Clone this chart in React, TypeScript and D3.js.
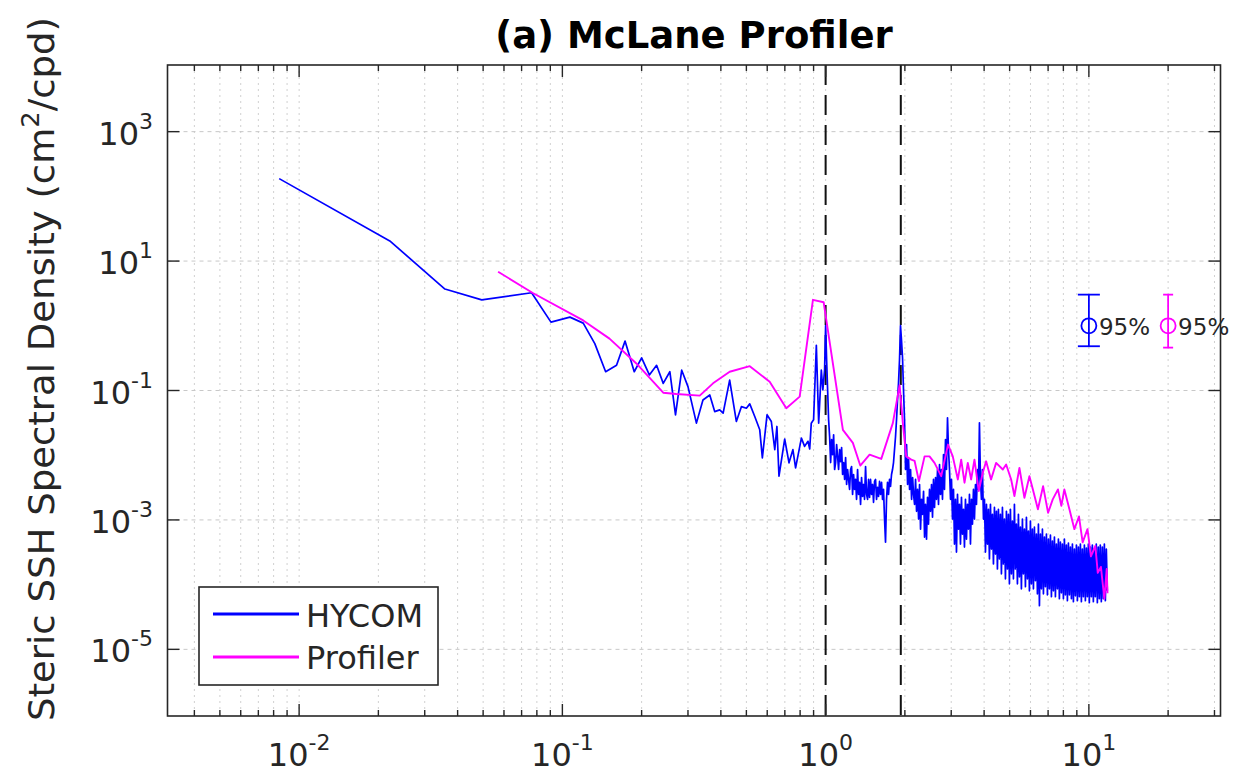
import React from "react";
import * as d3 from "d3";

// ---------- data (frequency in cpd, PSD in cm^2/cpd) ----------
const hycomLow: [number, number][] = [
  [0.0084, 188], [0.0221, 20.5], [0.0358, 3.7], [0.0494, 2.52], [0.0764, 3.24], [0.0905, 1.14],
  [0.1068, 1.36], [0.12, 1.1], [0.1328, 0.53], [0.146, 0.195], [0.1606, 0.245], [0.173, 0.58],
  [0.1875, 0.195], [0.2, 0.32], [0.214, 0.174], [0.228, 0.245], [0.2416, 0.129], [0.256, 0.195],
  [0.269, 0.042], [0.284, 0.206], [0.3, 0.115], [0.323, 0.0313], [0.342, 0.0714], [0.363, 0.0853],
  [0.379, 0.0472], [0.396, 0.0501], [0.408, 0.0446], [0.432, 0.145], [0.458, 0.0332], [0.479, 0.0564],
  [0.5, 0.0533], [0.515, 0.0621], [0.538, 0.0396], [0.562, 0.0247], [0.575, 0.0091], [0.599, 0.0421],
  [0.622, 0.0332], [0.641, 0.0122], [0.653, 0.0278], [0.665, 0.00474], [0.699, 0.0178], [0.726, 0.00762],
  [0.751, 0.0122], [0.769, 0.00638], [0.809, 0.0184], [0.832, 0.0137], [0.857, 0.0164], [0.87, 0.0125],
  [0.882, 0.0313], [0.9, 0.0352], [0.922, 0.5], [0.941, 0.0313], [0.963, 0.206], [0.976, 0.102],
  [0.991, 0.206], [1.0, 1.01],
];

const hycomTidal: [number, number][] = [
  [1.0088, 0.294], [1.0176, 0.1018], [1.0265, 0.0352], [1.0356, 0.0193], [1.0447, 0.0077], [1.0538, 0.0174],
  [1.063, 0.0102], [1.0724, 0.0207], [1.0818, 0.00601], [1.0913, 0.0077], [1.1009, 0.0146], [1.1105, 0.0095],
  [1.1202, 0.00601], [1.1301, 0.0122], [1.14, 0.00797], [1.15, 0.0131], [1.1601, 0.00503], [1.1703, 0.0077],
  [1.1806, 0.00422], [1.1909, 0.0092], [1.2014, 0.00353], [1.2119, 0.00601], [1.2225, 0.00422], [1.2332, 0.00296],
  [1.244, 0.00601], [1.2549, 0.00668], [1.2659, 0.00248], [1.277, 0.00503], [1.2882, 0.00296], [1.2995, 0.00422],
  [1.3109, 0.00208], [1.3224, 0.00601], [1.334, 0.00248], [1.3457, 0.0038], [1.3575, 0.00174], [1.3694, 0.00452],
  [1.3814, 0.00231], [1.3935, 0.00353], [1.4057, 0.00208], [1.4181, 0.00668], [1.4305, 0.00248], [1.4431, 0.00208],
  [1.4558, 0.00422], [1.4685, 0.00223], [1.4814, 0.00422], [1.4944, 0.00248], [1.5075, 0.00353], [1.5207, 0.00187],
  [1.534, 0.00393], [1.5475, 0.00422], [1.5611, 0.00208], [1.5748, 0.00318], [1.5886, 0.00231], [1.6025, 0.00393],
  [1.6166, 0.00248], [1.6308, 0.0038], [1.6451, 0.00208], [1.6595, 0.00296], [1.6741, 0.00103], [1.6887, 0.000454],
  [1.7035, 0.00208], [1.7185, 0.0038], [1.7336, 0.00248], [1.7488, 0.00422], [1.7642, 0.00329], [1.7796, 0.00503],
  [1.7952, 0.00601], [1.8109, 0.0077], [1.8268, 0.0122], [1.8428, 0.0193], [1.859, 0.0352], [1.8753, 0.0714],
  [1.8918, 0.13], [1.9083, 0.294], [1.925, 1.01], [1.942, 0.597], [1.959, 0.327], [1.9762, 0.1018],
];

const hycomHigh: [number, number][] = [
  [1.994, 0.0352], [2.012, 0.00601], [2.03, 0.0146], [2.048, 0.00353], [2.066, 0.00855], [2.084, 0.00296],
  [2.102, 0.00601], [2.121, 0.00208], [2.14, 0.00452], [2.158, 0.00248], [2.177, 0.00174], [2.196, 0.00422],
  [2.215, 0.00136], [2.235, 0.00296], [2.255, 0.00103], [2.274, 0.00353], [2.294, 0.00072], [2.314, 0.00208],
  [2.334, 0.00122], [2.355, 0.00276], [2.376, 0.000542], [2.396, 0.00174], [2.417, 0.000505], [2.438, 0.00223],
  [2.459, 0.000859], [2.481, 0.00296], [2.503, 0.00136], [2.525, 0.00353], [2.547, 0.0011], [2.569, 0.00422],
  [2.592, 0.00156], [2.615, 0.00452], [2.638, 0.00208], [2.661, 0.00601], [2.684, 0.00174], [2.708, 0.00717],
  [2.732, 0.00248], [2.755, 0.00601], [2.779, 0.00208], [2.804, 0.0102], [2.828, 0.00296], [2.853, 0.0174],
  [2.878, 0.00601], [2.904, 0.0378], [2.929, 0.0122], [2.955, 0.00601], [2.981, 0.00208], [3.007, 0.00422],
  [3.033, 0.00103], [3.06, 0.00296], [3.087, 0.000423], [3.114, 0.00208], [3.141, 0.000319], [3.169, 0.00248],
  [3.197, 0.00072], [3.225, 0.00174], [3.253, 0.000423], [3.281, 0.00223], [3.31, 0.000603], [3.339, 0.00146],
  [3.368, 0.000381], [3.398, 0.00208], [3.428, 0.000505], [3.458, 0.00174], [3.488, 0.00072], [3.519, 0.00248],
  [3.55, 0.000423], [3.581, 0.00208], [3.612, 0.000859], [3.644, 0.00296], [3.676, 0.00103], [3.709, 0.00353],
  [3.741, 0.00174], [3.774, 0.00601], [3.807, 0.00296], [3.84, 0.0317], [3.874, 0.00422], [3.908, 0.00208],
  [3.942, 0.00601], [3.977, 0.00103], [4.012, 0.00208], [4.047, 0.000319], [4.083, 0.00174], [4.118, 0.000423],
  [4.154, 0.00146], [4.191, 0.000249], [4.228, 0.00174], [4.265, 0.000355], [4.302, 0.00122], [4.34, 0.000209],
  [4.378, 0.00156], [4.417, 0.000297], [4.455, 0.00136], [4.494, 0.000175], [4.533, 0.00146], [4.574, 0.000249],
  [4.614, 0.00122], [4.654, 0.000147], [4.695, 0.00156], [4.736, 0.000209], [4.778, 0.00103], [4.82, 0.000123],
  [4.862, 0.00136], [4.905, 0.000175], [4.948, 0.00122], [4.991, 0.000103], [5.035, 0.00146], [5.079, 0.000147],
  [5.124, 0.000958], [5.169, 0.000123], [5.214, 0.00174], [5.26, 0.000175], [5.306, 0.000859], [5.353, 0.000103],
  [5.4, 0.00122], [5.447, 0.000132], [5.495, 0.000772], [5.543, 0.0000861], [5.592, 0.00103], [5.641, 0.000147],
  [5.691, 0.00072], [5.741, 0.0000928], [5.791, 0.0011], [5.842, 0.000123], [5.893, 0.000671], [5.945, 0.0000802],
  [5.997, 0.000958], [6.05, 0.000103], [6.103, 0.00072], [6.157, 0.0000861], [6.211, 0.000772], [6.266, 0.000115],
  [6.321, 0.000603], [6.376, 0.0000722], [6.432, 0.000859], [6.489, 0.0000472], [6.546, 0.000603], [6.603, 0.0000861],
  [6.661, 0.00072], [6.72, 0.0000722], [6.779, 0.000542], [6.838, 0.0000928], [6.898, 0.000603], [6.959, 0.0000697],
  [7.02, 0.000505], [7.082, 0.0000861], [7.144, 0.000582], [7.207, 0.000065], [7.27, 0.000471], [7.334, 0.0000802],
  [7.398, 0.000542], [7.463, 0.000065], [7.528, 0.000423], [7.595, 0.0000861], [7.661, 0.000505], [7.727, 0.0000605],
  [7.795, 0.000454], [7.864, 0.0000747], [7.933, 0.000423], [8.003, 0.0000605], [8.073, 0.000505], [8.144, 0.0000697],
  [8.215, 0.000409], [8.288, 0.0000564], [8.361, 0.000439], [8.435, 0.0000697], [8.509, 0.000381], [8.583, 0.0000605],
  [8.659, 0.000423], [8.735, 0.0000544], [8.812, 0.000355], [8.889, 0.0000672], [8.967, 0.000409], [9.046, 0.0000564],
  [9.125, 0.000381], [9.204, 0.000065], [9.285, 0.000423], [9.366, 0.0000544], [9.448, 0.000355], [9.531, 0.000065],
  [9.615, 0.000409], [9.699, 0.0000564], [9.784, 0.000367], [9.87, 0.000065], [9.957, 0.000423], [10.04, 0.0000525],
  [10.13, 0.000381], [10.22, 0.000065], [10.31, 0.000409], [10.4, 0.0000544], [10.49, 0.000355], [10.58, 0.000065],
  [10.67, 0.000423], [10.77, 0.0000525], [10.86, 0.000381], [10.96, 0.0000605], [11.05, 0.000409], [11.15, 0.0000544],
  [11.25, 0.000381], [11.35, 0.0000605], [11.45, 0.000423], [11.55, 0.0000564], [11.65, 0.000355], [11.75, 0.0000802],
];

const profiler: [number, number][] = [
  [0.057, 6.85], [0.0775, 3.18], [0.12, 1.21], [0.151, 0.634], [0.191, 0.262], [0.2416, 0.0925],
  [0.271, 0.0883], [0.3325, 0.0832], [0.3735, 0.129], [0.432, 0.195], [0.515, 0.238], [0.613, 0.136],
  [0.709, 0.0533], [0.797, 0.0804], [0.895, 2.52], [0.983, 2.31], [1.02, 0.85], [1.163, 0.0247],
  [1.269, 0.0155], [1.354, 0.00692], [1.469, 0.0102], [1.627, 0.00877], [1.8, 0.0313], [1.91, 0.121],
  [1.965, 0.0313], [2.024, 0.0096], [2.115, 0.00855], [2.177, 0.0082], [2.261, 0.00397], [2.376, 0.0096],
  [2.481, 0.0096], [2.592, 0.00762], [2.748, 0.00474], [2.916, 0.0146], [3.041, 0.0096], [3.179, 0.00422],
  [3.273, 0.00855], [3.37, 0.00376], [3.468, 0.00762], [3.571, 0.00422], [3.676, 0.00855], [3.817, 0.00279],
  [3.953, 0.00535], [4.071, 0.00805], [4.25, 0.00422], [4.443, 0.00762], [4.711, 0.00601], [4.85, 0.00717],
  [5.067, 0.00422], [5.214, 0.00234], [5.447, 0.00638], [5.691, 0.0022], [5.945, 0.00474], [6.128, 0.00296],
  [6.404, 0.00146], [6.7, 0.00333], [7.0, 0.00129], [7.29, 0.00208], [7.63, 0.00296], [7.86, 0.00165],
  [8.07, 0.00296], [8.435, 0.00146], [8.81, 0.00072], [9.17, 0.00113], [9.47, 0.00045], [9.88, 0.00072],
  [10.18, 0.000273], [10.58, 0.000396], [10.81, 0.000152], [11.11, 0.000188], [11.45, 0.0000605],
  [11.69, 0.000175], [11.77, 0.0000735],
];

// 95% confidence bars
const errFreq = [10, 20];
const errCenter = [1, 1];
const errLow = [0.483, 0.46];
const errHigh = [3.03, 3.03];

// tidal frequencies marked with dashed lines (cpd)
const tidalFreqs = [1.0, 1.93];

const xTickExps = [-2, -1, 0, 1];
const yTickExps = [-5, -3, -1, 1, 3];
const seriesNames = ["HYCOM", "Profiler"];
const titleText = "(a) McLane Profiler";

// ---------- layout ----------
const W = 1235;
const H = 779;
const L = 167.5, R = 1220.5, T = 65, B = 716;
const BLUE = "#0000ff";
const MAGENTA = "#ff00ff";
const AX = "#262626";
const FONT = "'DejaVu Sans', sans-serif";

export default function App() {
  const x = d3.scaleLog().domain([10 ** -2.5, 10 ** 1.5]).range([L, R]);
  const y = d3.scaleLog().domain([10 ** -6.03, 10 ** 4.03]).range([B, T]);
  const line = d3
    .line<[number, number]>()
    .x((d) => x(d[0]))
    .y((d) => y(d[1]));

  const hycom = [...hycomLow, ...hycomTidal, ...hycomHigh];
  const xAll = x.ticks();
  const isMajor = (v: number) => Math.abs(Math.log10(v) - Math.round(Math.log10(v))) < 1e-6;

  return (
    <svg
      width={W}
      height={H}
      style={{ position: "absolute", left: 0, top: 0, background: "#fff" }}
      fontFamily={FONT}
    >
      <rect x={0} y={0} width={W} height={H} fill="#fff" />
      {/* grid */}
      {xAll.map((v, i) => (
        <line
          key={"gx" + i}
          x1={x(v)}
          x2={x(v)}
          y1={T}
          y2={B}
          stroke="#d0d0d0"
          strokeWidth={1}
          strokeDasharray="2,4"
        />
      ))}
      {yTickExps.map((e) => (
        <line
          key={"gy" + e}
          x1={L}
          x2={R}
          y1={y(10 ** e)}
          y2={y(10 ** e)}
          stroke="#c8c8c8"
          strokeWidth={1}
          strokeDasharray="4,4"
        />
      ))}

      {/* tidal dashed lines */}
      {tidalFreqs.map((f) => (
        <line
          key={"td" + f}
          x1={x(f)}
          x2={x(f)}
          y1={T}
          y2={B}
          stroke="#111"
          strokeWidth={2}
          strokeDasharray="20,10"
        />
      ))}

      {/* series */}
      <path d={line(hycom) || ""} fill="none" stroke={BLUE} strokeWidth={1.7} strokeLinejoin="round" />
      <path d={line(profiler) || ""} fill="none" stroke={MAGENTA} strokeWidth={1.9} strokeLinejoin="round" />

      {/* error bars */}
      {errFreq.map((f, i) => {
        const c = i === 0 ? BLUE : MAGENTA;
        const cap = i === 0 ? 11 : 5;
        const cx = x(f);
        return (
          <g key={"eb" + i} stroke={c} strokeWidth={1.8} fill="none">
            <line x1={cx} x2={cx} y1={y(errLow[i])} y2={y(errHigh[i])} />
            <line x1={cx - cap} x2={cx + cap} y1={y(errLow[i])} y2={y(errLow[i])} />
            <line x1={cx - cap} x2={cx + cap} y1={y(errHigh[i])} y2={y(errHigh[i])} />
            <circle cx={cx} cy={y(errCenter[i])} r={7.5} />
            <text x={cx + 10} y={y(errCenter[i]) + 9} fill={AX} stroke="none" fontSize={23}>
              95%
            </text>
          </g>
        );
      })}

      {/* axes box */}
      <rect x={L} y={T} width={R - L} height={B - T} fill="none" stroke={AX} strokeWidth={1.6} />

      {/* x ticks */}
      {xAll.map((v, i) => {
        const len = isMajor(v) ? 12 : 6;
        return (
          <g key={"xt" + i} stroke={AX} strokeWidth={1.4}>
            <line x1={x(v)} x2={x(v)} y1={B} y2={B - len} />
            <line x1={x(v)} x2={x(v)} y1={T} y2={T + len} />
          </g>
        );
      })}
      {/* y ticks */}
      {yTickExps.map((e) => (
        <g key={"yt" + e} stroke={AX} strokeWidth={1.4}>
          <line x1={L} x2={L + 12} y1={y(10 ** e)} y2={y(10 ** e)} />
          <line x1={R} x2={R - 12} y1={y(10 ** e)} y2={y(10 ** e)} />
        </g>
      ))}

      {/* x tick labels */}
      {xTickExps.map((e) => (
        <text key={"xl" + e} x={x(10 ** e)} y={766} textAnchor="middle" fill={AX} fontSize={32}>
          <tspan>10</tspan>
          <tspan dy={-16} fontSize={22}>{String(e)}</tspan>
        </text>
      ))}
      {/* y tick labels */}
      {yTickExps.map((e) => (
        <text key={"yl" + e} x={153} y={y(10 ** e) + 13} textAnchor="end" fill={AX} fontSize={32}>
          <tspan>10</tspan>
          <tspan dy={-16} fontSize={22}>{String(e)}</tspan>
        </text>
      ))}

      {/* y label */}
      <text
        transform={`translate(54, 369) rotate(-90)`}
        textAnchor="middle"
        fill={AX}
        fontSize={36}
        textLength={704}
        lengthAdjust="spacingAndGlyphs"
      >
        <tspan>Steric SSH Spectral Density (cm</tspan>
        <tspan dy={-15} fontSize={25}>2</tspan>
        <tspan dy={15}>/cpd)</tspan>
      </text>

      {/* title */}
      <text x={(L + R) / 2} y={48} textAnchor="middle" fill="#000" fontSize={37} fontWeight="bold">
        {titleText}
      </text>

      {/* legend */}
      <rect x={199} y={587} width={239} height={98} fill="#fff" stroke={AX} strokeWidth={1.6} />
      <line x1={213} x2={299} y1={614} y2={614} stroke={BLUE} strokeWidth={3} />
      <line x1={213} x2={299} y1={657} y2={657} stroke={MAGENTA} strokeWidth={3} />
      <text x={306} y={627} fill={AX} fontSize={32}>
        {seriesNames[0]}
      </text>
      <text x={306} y={669} fill={AX} fontSize={32}>
        {seriesNames[1]}
      </text>
    </svg>
  );
}
